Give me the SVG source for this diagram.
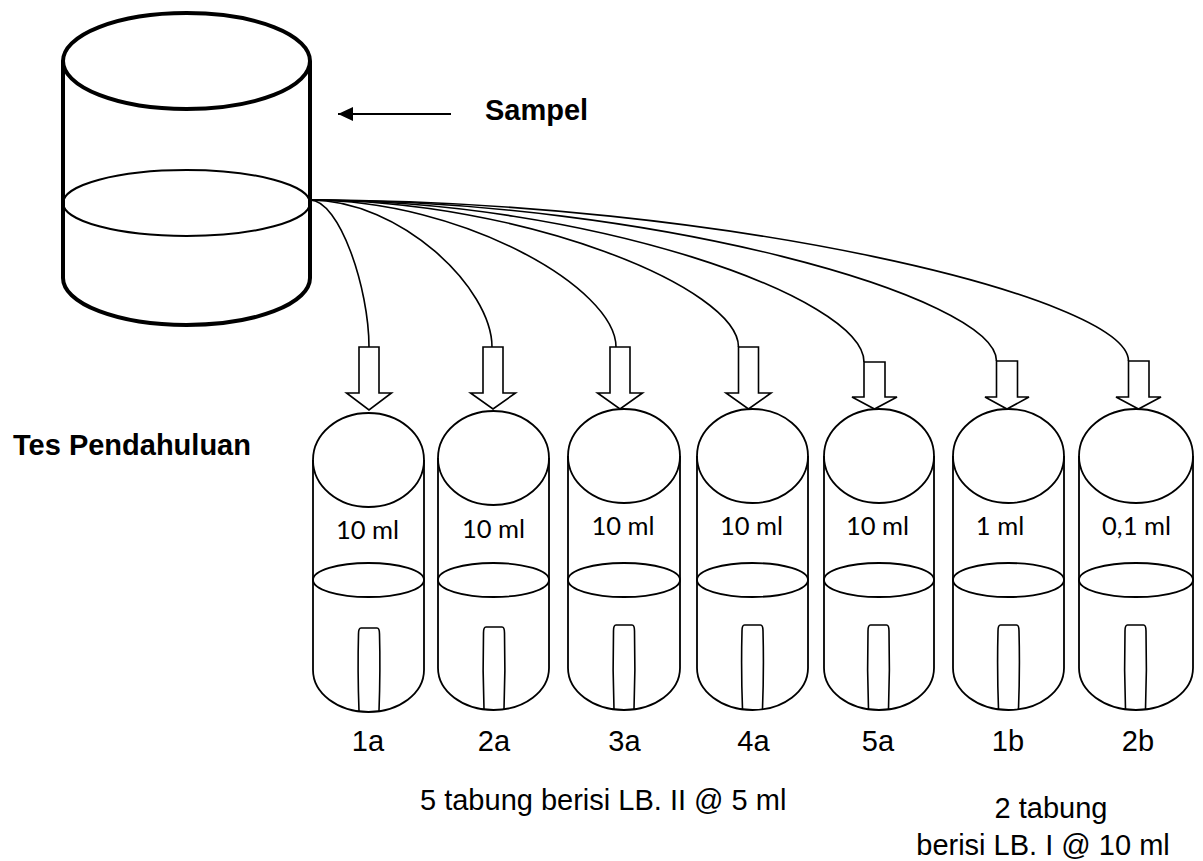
<svg xmlns="http://www.w3.org/2000/svg" width="1203" height="861" viewBox="0 0 1203 861">
  <style>
    .beaker { fill: none; stroke: #000; stroke-width: 4; }
    .beaker-liquid { fill: none; stroke: #000; stroke-width: 2; }
    .tube { fill: none; stroke: #000; stroke-width: 1.8; }
    .durham { fill: none; stroke: #000; stroke-width: 1.6; }
    .block-arrow { fill: #fff; stroke: #000; stroke-width: 1.6; stroke-linejoin: miter; }
    .flow { fill: none; stroke: #000; stroke-width: 1.6; }
    .vol { font-family: Lato, "Open Sans", sans-serif; font-size: 25.5px; fill: #000; text-anchor: middle; }
    .lbl { font-family: "Liberation Sans", Arial, sans-serif; font-size: 29px; fill: #000; }
    .bold { font-weight: bold; }
    .mid { text-anchor: middle; }
  </style>
  <defs>
    <marker id="head" markerWidth="16" markerHeight="16" refX="15" refY="7" orient="auto" markerUnits="userSpaceOnUse">
      <path d="M0,0 L15,7 L0,14 Z" fill="#000"/>
    </marker>
  </defs>

  <rect width="1203" height="861" fill="#fff"/>

  <!-- sample container -->
  <g id="sampel-beaker">
    <ellipse class="beaker" cx="186.5" cy="61" rx="123.5" ry="48"/>
    <path class="beaker" d="M63,61 V278 A123.5,47 0 0 0 310,278 V61"/>
    <ellipse class="beaker-liquid" cx="186.5" cy="203" rx="123.5" ry="33"/>
  </g>

  <g id="sampel-label">
    <line x1="451" y1="114" x2="338" y2="114" stroke="#000" stroke-width="2" marker-end="url(#head)"/>
    <text class="lbl bold" x="485" y="120">Sampel</text>
  </g>

  <text id="tes-label" class="lbl bold" x="13" y="455">Tes Pendahuluan</text>

  <!-- transfer lines from the sample to each tube -->
  <g id="connectors">
    <path class="flow" d="M310,200 C339.5,200 369,288.2 369,347"/>
    <path class="flow" d="M310,200 C401,200 492,288.2 492,347"/>
    <path class="flow" d="M310,200 C463,200 616,288.2 616,347"/>
    <path class="flow" d="M310,200 C524,200 738.5,288.2 738.5,347"/>
    <path class="flow" d="M310,200 C587,200 864,297 864,362"/>
    <path class="flow" d="M310,200 C653,200 996.5,296.6 996.5,361"/>
    <path class="flow" d="M310,200 C719,200 1128.5,296.6 1128.5,361"/>
  </g>

  <!-- tube 1a -->
  <g id="tube-1a">
    <polygon class="block-arrow" points="359,347 379,347 379,393 391.5,393 369,410 346.5,393 359,393"/>
    <ellipse class="tube" cx="368.5" cy="460" rx="55.5" ry="47"/>
    <path class="tube" d="M313,460 V670 A55.5,42 0 0 0 424,670 V460"/>
    <ellipse class="tube" cx="368.5" cy="580" rx="55.5" ry="17"/>
    <path class="durham" d="M359,711 Q357.5,670 358.5,634 Q358.5,628 361,628 H377 Q379.5,628 379.5,634 Q380.5,670 379,711"/>
    <text class="vol" x="367.5" y="539">10 ml</text>
    <text class="lbl mid" x="368" y="751">1a</text>
  </g>

  <!-- tube 2a -->
  <g id="tube-2a">
    <polygon class="block-arrow" points="483,347 503,347 503,393 515.5,393 493,409 470.5,393 483,393"/>
    <ellipse class="tube" cx="493.5" cy="458" rx="55.5" ry="47"/>
    <path class="tube" d="M438,458 V668 A55.5,42 0 0 0 549,668 V458"/>
    <ellipse class="tube" cx="493.5" cy="580" rx="55.5" ry="17"/>
    <path class="durham" d="M484,709 Q482.5,670 483.5,633 Q483.5,627 486,627 H502 Q504.5,627 504.5,633 Q505.5,670 504,709"/>
    <text class="vol" x="493.5" y="538">10 ml</text>
    <text class="lbl mid" x="494" y="751">2a</text>
  </g>

  <!-- tube 3a -->
  <g id="tube-3a">
    <polygon class="block-arrow" points="610,347 630,347 630,393 642.5,393 620,409 597.5,393 610,393"/>
    <ellipse class="tube" cx="624" cy="456" rx="56" ry="47"/>
    <path class="tube" d="M568,456 V668 A56,42 0 0 0 680,668 V456"/>
    <ellipse class="tube" cx="624" cy="580" rx="56" ry="17"/>
    <path class="durham" d="M614,709 Q612.5,670 613.5,631 Q613.5,625 616,625 H632 Q634.5,625 634.5,631 Q635.5,670 634,709"/>
    <text class="vol" x="623" y="535">10 ml</text>
    <text class="lbl mid" x="624.5" y="751">3a</text>
  </g>

  <!-- tube 4a -->
  <g id="tube-4a">
    <polygon class="block-arrow" points="738.5,347 758.5,347 758.5,393 771,393 748.5,409 726,393 738.5,393"/>
    <ellipse class="tube" cx="752.5" cy="456" rx="55.5" ry="47"/>
    <path class="tube" d="M697,456 V668 A55.5,42 0 0 0 808,668 V456"/>
    <ellipse class="tube" cx="752.5" cy="580" rx="55.5" ry="17"/>
    <path class="durham" d="M742.5,709 Q741,670 742,631 Q742,625 744.5,625 H760.5 Q763,625 763,631 Q764,670 762.5,709"/>
    <text class="vol" x="751.5" y="535">10 ml</text>
    <text class="lbl mid" x="753.5" y="751">4a</text>
  </g>

  <!-- tube 5a -->
  <g id="tube-5a">
    <polygon class="block-arrow" points="864,362 885,362 885,397 897,397 874.5,409 852,397 864,397"/>
    <ellipse class="tube" cx="879" cy="456" rx="55" ry="47"/>
    <path class="tube" d="M824,456 V668 A55,42 0 0 0 934,668 V456"/>
    <ellipse class="tube" cx="879" cy="580" rx="55" ry="17"/>
    <path class="durham" d="M868.5,709 Q867,670 868,631 Q868,625 870.5,625 H886.5 Q889,625 889,631 Q890,670 888.5,709"/>
    <text class="vol" x="877.5" y="535">10 ml</text>
    <text class="lbl mid" x="878" y="751">5a</text>
  </g>

  <!-- tube 1b -->
  <g id="tube-1b">
    <polygon class="block-arrow" points="996.5,361 1017.5,361 1017.5,397 1029,397 1007,409 985,397 996.5,397"/>
    <ellipse class="tube" cx="1008.5" cy="456" rx="55.5" ry="47"/>
    <path class="tube" d="M953,456 V668 A55.5,42 0 0 0 1064,668 V456"/>
    <ellipse class="tube" cx="1008.5" cy="580" rx="55.5" ry="17"/>
    <path class="durham" d="M998.5,709 Q997,670 998,631 Q998,625 1000.5,625 H1016.5 Q1019,625 1019,631 Q1020,670 1018.5,709"/>
    <text class="vol" x="1000" y="535">1 ml</text>
    <text class="lbl mid" x="1008" y="751">1b</text>
  </g>

  <!-- tube 2b -->
  <g id="tube-2b">
    <polygon class="block-arrow" points="1128.5,361 1149,361 1149,397 1161,397 1138.5,409 1116,397 1128.5,397"/>
    <ellipse class="tube" cx="1136" cy="456" rx="57" ry="47"/>
    <path class="tube" d="M1079,456 V668 A57,42 0 0 0 1193,668 V456"/>
    <ellipse class="tube" cx="1136" cy="580" rx="57" ry="17"/>
    <path class="durham" d="M1125.5,709 Q1124,670 1125,631 Q1125,625 1127.5,625 H1143.5 Q1146,625 1146,631 Q1147,670 1145.5,709"/>
    <text class="vol" x="1136.5" y="535">0,1 ml</text>
    <text class="lbl mid" x="1138" y="751">2b</text>
  </g>

  <!-- group captions -->
  <g id="captions">
    <text class="lbl" x="420" y="810">5 tabung berisi LB. II @ 5 ml</text>
    <text class="lbl mid" x="1051" y="818">2 tabung</text>
    <text class="lbl mid" x="1043" y="855">berisi LB. I @ 10 ml</text>
  </g>
</svg>
